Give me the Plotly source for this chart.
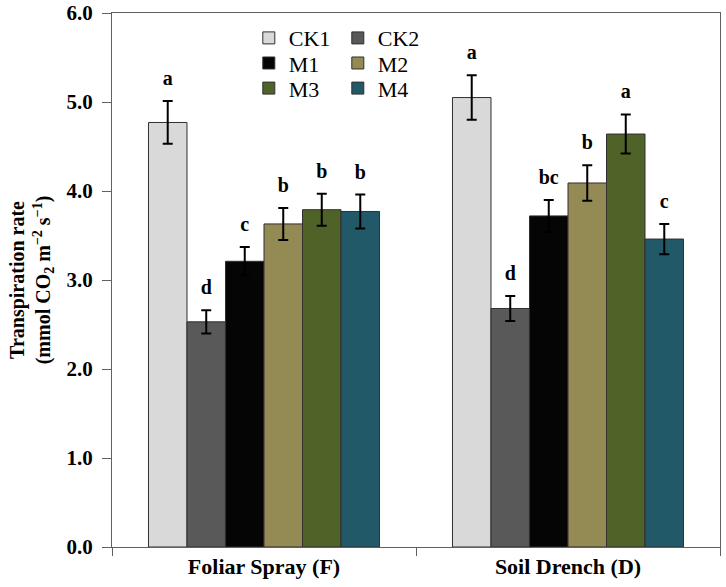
import plotly.graph_objects as go

categories = ["Foliar Spray (F)", "Soil Drench (D)"]
series = ["CK1", "CK2", "M1", "M2", "M3", "M4"]
values = {
    "CK1": [4.77, 5.05],
    "CK2": [2.53, 2.68],
    "M1": [3.21, 3.72],
    "M2": [3.63, 4.09],
    "M3": [3.79, 4.64],
    "M4": [3.77, 3.46],
}
errors = {
    "CK1": [0.24, 0.25],
    "CK2": [0.13, 0.14],
    "M1": [0.16, 0.18],
    "M2": [0.18, 0.20],
    "M3": [0.18, 0.22],
    "M4": [0.19, 0.17],
}
letters = {
    "CK1": ["a", "a"],
    "CK2": ["d", "d"],
    "M1": ["c", "bc"],
    "M2": ["b", "b"],
    "M3": ["b", "a"],
    "M4": ["b", "c"],
}
colors = {
    "CK1": "#d9d9d9",
    "CK2": "#595959",
    "M1": "#050505",
    "M2": "#948a54",
    "M3": "#4f6228",
    "M4": "#215968",
}
legend_of = {"CK1": "legend", "CK2": "legend", "M1": "legend2", "M2": "legend2",
             "M3": "legend3", "M4": "legend3"}

FONT = "Liberation Serif"
GAP = 0.24

fig = go.Figure()
for s in series:
    fig.add_trace(go.Bar(
        name=s, x=categories, y=values[s],
        marker=dict(color=colors[s], line=dict(color="#303030", width=1)),
        error_y=dict(type="data", array=errors[s], color="black", thickness=2, width=5),
        legend=legend_of[s],
    ))
for s in series:
    tops = [v + e for v, e in zip(values[s], errors[s])]
    fig.add_trace(go.Scatter(
        x=categories, y=tops, mode="markers+text", text=letters[s],
        marker=dict(size=16, opacity=0),
        textposition="top center",
        textfont=dict(family=FONT, size=20, color="black", weight="bold"),
        showlegend=False, hoverinfo="skip", cliponaxis=False,
    ))

leg_common = dict(orientation="h", xanchor="left", yanchor="middle",
                  font=dict(family=FONT, size=22, color="black"),
                  entrywidth=44, entrywidthmode="pixels",
                  bgcolor="rgba(0,0,0,0)", itemclick=False, tracegroupgap=0)
fig.update_layout(
    width=726, height=587,
    margin=dict(l=112, r=6, t=13, b=40, autoexpand=False),
    paper_bgcolor="white", plot_bgcolor="white",
    barmode="group", bargap=GAP, bargroupgap=0,
    scattermode="group", scattergap=GAP,
    showlegend=True,
    legend=dict(x=0.225, y=0.953, **leg_common),
    legend2=dict(x=0.225, y=0.906, **leg_common),
    legend3=dict(x=0.225, y=0.859, **leg_common),
    font=dict(family=FONT, color="black"),
)
fig.update_yaxes(
    range=[0, 6], dtick=1, tickformat=".1f",
    ticks="outside", ticklen=9, tickcolor="#606060", ticklabelstandoff=5,
    showline=True, linecolor="#606060", linewidth=1, mirror=True,
    showgrid=False, zeroline=False, ticklabeloverflow="allow",
    tickfont=dict(family=FONT, size=21, color="black", weight="bold"),
    title=dict(text="Transpiration rate<br>(mmol CO<sub>2</sub> m<sup>−2</sup> s<sup>−1</sup>)",
               font=dict(family=FONT, size=20, color="black", weight="bold"), standoff=10),
)
fig.update_xaxes(
    ticks="outside", tickson="boundaries", ticklen=8, tickcolor="#606060",
    showline=True, linecolor="#606060", linewidth=1, mirror=True,
    showgrid=False,
    tickfont=dict(family=FONT, size=22, color="black", weight="bold"),
)
fig.write_html("out.html", config={"displayModeBar": False},
               post_script="document.body.style.margin='0';")
